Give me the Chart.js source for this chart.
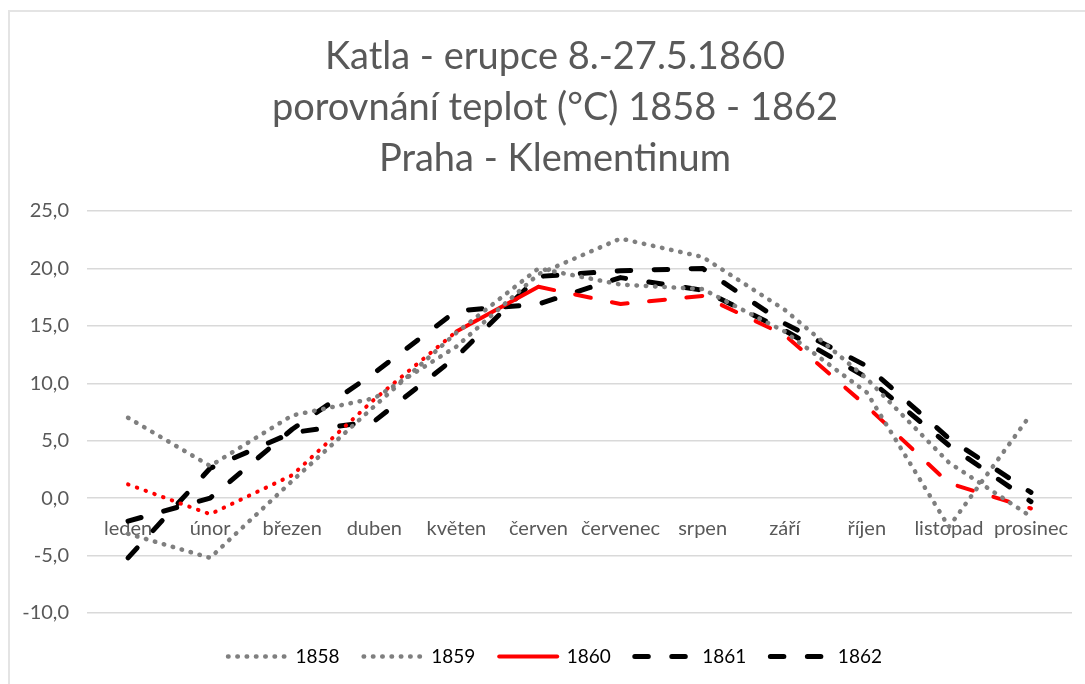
<!DOCTYPE html>
<html lang="cs">
<head>
<meta charset="utf-8">
<title>Katla - erupce 1860</title>
<script src="https://cdn.jsdelivr.net/npm/chart.js@4.4.1/dist/chart.umd.min.js"></script>
<style>
  html, body { margin: 0; padding: 0; background: #fff; overflow: hidden; }
  #frame { position: absolute; left: 8px; top: 10px; width: 1100px; height: 700px;
           border-left: 2px solid #e4e4e4; border-top: 2px solid #e4e4e4; }
  #wrap { position: absolute; left: 0; top: 0; width: 1110px; height: 684px; }
</style>
</head>
<body>
<div id="frame"></div>
<div id="wrap"><canvas id="chart" width="1110" height="684"></canvas></div>
<script>
var months = ['leden', 'únor', 'březen', 'duben', 'květen', 'červen',
              'červenec', 'srpen', 'září', 'říjen', 'listopad', 'prosinec'];

// průměrné měsíční teploty (°C)
var t1858 = [7.0, 2.8, 7.2, 8.7, 13.2, 19.5, 22.6, 21.0, 16.4, 10.4, 3.1, -1.6];
var t1859 = [-3.1, -5.2, 1.5, 8.0, 14.4, 20.0, 18.6, 18.2, 14.5, 9.2, -2.5, 7.3];
var t1860 = [1.2, -1.4, 2.0, 8.6, 14.5, 18.4, 16.9, 17.6, 14.2, 8.0, 1.3, -0.9];
var t1861 = [-5.2, 2.6, 5.7, 6.7, 12.3, 19.3, 19.8, 20.0, 15.2, 11.5, 5.2, 0.5];
var t1862 = [-2.0, 0.0, 6.0, 10.9, 16.3, 16.9, 19.2, 18.1, 14.6, 10.5, 4.6, -0.3];

var yTicks = { min: -10, max: 25, step: 5 };
var titleLines = ['Katla - erupce 8.-27.5.1860', 'porovnání teplot (°C) 1858 - 1862', 'Praha - Klementinum'];

var textColor = '#595959';
var fontFam = 'Lato, "Open Sans", sans-serif';

var dotted = [0.5, 8.8];
var redDash = [16, 21.5];
var blackDash = [13.5, 23.5];

function line(label, data, color, width, dash) {
    return {
        label: label,
        data: data,
        xAxisID: 'x',
        yAxisID: 'y',
        borderColor: color,
        backgroundColor: color,
        borderWidth: width,
        borderDash: dash,
        borderCapStyle: 'round',
        borderJoinStyle: 'round',
        pointRadius: 0,
        pointHoverRadius: 0,
        tension: 0,
        fill: false
    };
}

var ds1860 = line('1860', t1860, '#ff0000', 4, []);
// do května tečkovaně, květen-červen plná čára, dál čárkovaně
ds1860.segment = {
    borderDash: function (c) {
        if (c.p0DataIndex < 4) return dotted;
        if (c.p0DataIndex === 4) return [];
        return redDash;
    }
};

var ctx = document.getElementById('chart').getContext('2d');
var chart = new Chart(ctx, {
    type: 'line',
    data: {
        labels: months,
        datasets: [
            line('1858', t1858, '#7f7f7f', 4.5, dotted),
            line('1859', t1859, '#7f7f7f', 4.5, dotted),
            ds1860,
            line('1861', t1861, '#000000', 5, blackDash),
            line('1862', t1862, '#000000', 5, blackDash)
        ]
    },
    options: {
        responsive: false,
        animation: false,
        devicePixelRatio: 1,
        layout: { padding: { left: 15, right: 15, top: 0, bottom: 8 } },
        plugins: {
            title: {
                display: true,
                text: titleLines,
                color: textColor,
                font: { family: fontFam, size: 38, weight: 'normal', lineHeight: 51 / 38 },
                padding: { top: 31.5, bottom: 26.5 }
            },
            legend: {
                position: 'bottom',
                labels: {
                    usePointStyle: true,
                    pointStyleWidth: 58,
                    color: textColor,
                    font: { family: fontFam, size: 19 },
                    padding: 24,
                    generateLabels: function (c) {
                        return c.data.datasets.map(function (d, i) {
                            return {
                                text: d.label,
                                fillStyle: d.borderColor,
                                strokeStyle: d.borderColor,
                                lineWidth: d.borderWidth,
                                lineDash: d.borderDash,
                                lineCap: 'round',
                                pointStyle: 'line',
                                hidden: false,
                                datasetIndex: i
                            };
                        });
                    }
                }
            },
            tooltip: { enabled: false }
        },
        scales: {
            x: {
                type: 'category',
                position: { y: 0 },
                offset: true,
                grid: { display: false },
                border: { display: false },
                ticks: {
                    color: textColor,
                    font: { family: fontFam, size: 20 },
                    padding: 10,
                    autoSkip: false,
                    maxRotation: 0
                }
            },
            gap: {
                type: 'category',
                position: 'bottom',
                grid: { display: false },
                border: { display: false },
                ticks: { display: false },
                afterFit: function (s) { s.height = 10; }
            },
            y: {
                min: yTicks.min,
                max: yTicks.max,
                ticks: {
                    stepSize: yTicks.step,
                    color: textColor,
                    font: { family: fontFam, size: 20 },
                    padding: 18,
                    callback: function (v) { return v.toFixed(1).replace('.', ','); }
                },
                grid: { color: '#d9d9d9', lineWidth: 1.5, drawTicks: false },
                border: { display: false },
                afterFit: function (s) { s.width = 72; }
            },
            yr: {
                type: 'linear',
                position: 'right',
                grid: { display: false },
                border: { display: false },
                ticks: { display: false },
                afterFit: function (s) { s.width = 23; }
            }
        }
    }
});
</script>
</body>
</html>
